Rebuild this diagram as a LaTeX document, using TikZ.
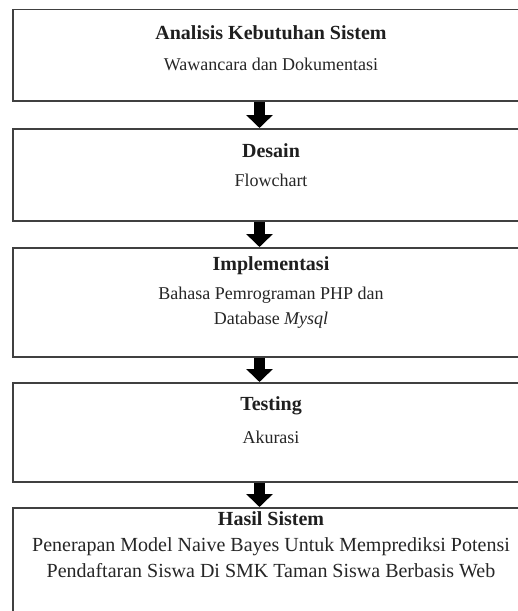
\documentclass[tikz,border=0pt]{standalone}
\usepackage{fontspec}
\setmainfont{Liberation Serif}
\usetikzlibrary{arrows.meta}
\tikzset{
  boxframe/.style={draw=black!75, line width=1.8pt, fill=white, minimum width=518pt, inner sep=0pt, anchor=north west},
  ttl/.style={font=\fontsize{20}{23}\selectfont\bfseries, text=black!88, inner sep=0pt, anchor=mid},
  sub/.style={font=\fontsize{18}{21}\selectfont, text=black!85, inner sep=0pt, anchor=mid},
  subbig/.style={font=\fontsize{20}{23}\selectfont, text=black!85, inner sep=0pt, anchor=mid},
  bigarrow/.style={draw=black, line width=10.5pt, -{Triangle[width=26pt,length=13pt]}}
}
\begin{document}
\begin{tikzpicture}[x=1pt,y=-1pt]
\useasboundingbox (0,0) rectangle (518,611);
\clip (0,0) rectangle (518,611);
\fill[white] (0,0) rectangle (518,611);
\coordinate (ax) at (259.5,0);
% boxes
\node[boxframe, minimum height=91.5pt] (b1) at (12,8.5) {};
\node[boxframe, minimum height=92pt] (b2) at (12,128) {};
\node[boxframe, minimum height=109pt] (b3) at (12,247) {};
\node[boxframe, minimum height=99pt] (b4) at (12,382) {};
\node[boxframe, minimum height=120pt] (b5) at (12,507) {};
% texts
\node[ttl] (t1) at (271,37) {Analisis Kebutuhan Sistem};
\node[sub] (s1) at (271,68) {Wawancara dan Dokumentasi};
\node[ttl] (t2) at (271,155.5) {Desain};
\node[sub] (s2) at (271,184) {Flowchart};
\node[ttl] (t3) at (271,268.5) {Implementasi};
\node[sub] (s3a) at (271,297) {Bahasa Pemrograman PHP dan};
\node[sub] (s3b) at (271,322) {Database \textit{Mysql}};
\node[ttl] (t4) at (271,408) {Testing};
\node[sub] (s4) at (271,441) {Akurasi};
\node[ttl] (t5) at (271,523.5) {Hasil Sistem};
\node[subbig] (s5a) at (271,549) {Penerapan Model Naive Bayes Untuk Memprediksi Potensi};
\node[subbig] (s5b) at (271,575) {Pendaftaran Siswa Di SMK Taman Siswa Berbasis Web};
% arrows
\draw[bigarrow] (b1.south -| ax) -- (b2.north -| ax);
\draw[bigarrow] (b2.south -| ax) -- (b3.north -| ax);
\draw[bigarrow] (b3.south -| ax) -- (b4.north -| ax);
\draw[bigarrow] (b4.south -| ax) -- (b5.north -| ax);
\end{tikzpicture}
\end{document}
